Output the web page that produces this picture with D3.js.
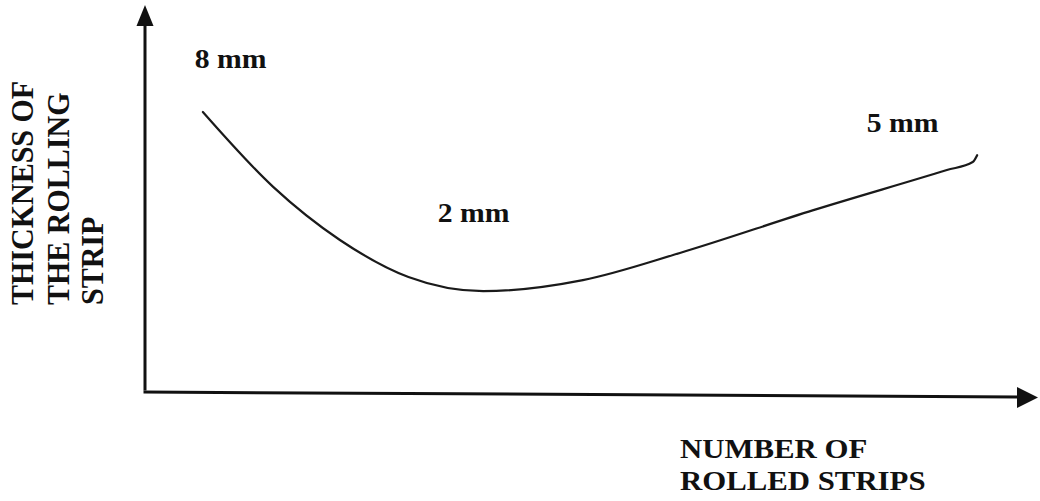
<!DOCTYPE html>
<html><head><meta charset="utf-8">
<script src="https://cdn.jsdelivr.net/npm/d3@7/dist/d3.min.js"></script>
<style>html,body{margin:0;padding:0;background:#fff;}svg{display:block;}</style>
</head><body><svg id="c" width="1040" height="501"></svg>
<script>
// Curve data (abstract units: x = number of rolled strips, y = thickness)
const stripsX = [6.5, 14.4, 21.9, 29.6, 38.0, 49.2, 60.1, 75.1, 90.1, 93.0, 93.5];
const thicknessY = [7.33, 5.37, 3.98, 3.01, 2.64, 2.93, 3.64, 4.76, 5.81, 6.02, 6.20];
// Annotation labels
const noteText = ["8 mm", "2 mm", "5 mm"];
const noteX = [5.6, 32.9, 81.1];
const noteY = [8.48, 4.45, 6.81];
const xTitle = ["NUMBER OF", "ROLLED STRIPS"];
const yTitle = ["THICKNESS OF", "THE ROLLING", "STRIP"];

const svg = d3.select("#c");
const x = d3.scaleLinear().domain([0, 100]).range([145, 1035]);
const y = d3.scaleLinear().domain([0, 10]).range([392, 10]);
const ink = "#111";
const font = "'Liberation Serif','Times New Roman',serif";

// axes
svg.append("line").attr("x1", x(0)).attr("y1", y(0) - 1.5).attr("x2", x(0)).attr("y2", 20)
  .attr("stroke", ink).attr("stroke-width", 3);
svg.append("path").attr("d", "M145,5 L153.5,26 L136.5,26 Z").attr("fill", ink);
svg.append("line").attr("x1", x(0) - 1.5).attr("y1", 392).attr("x2", 1022).attr("y2", 397)
  .attr("stroke", ink).attr("stroke-width", 3);
svg.append("path").attr("d", "M1038,397.5 L1017,387 L1017,408 Z").attr("fill", ink);

// curve
const pts = stripsX.map((v, i) => [v, thicknessY[i]]);
const line = d3.line().x(d => x(d[0])).y(d => y(d[1])).curve(d3.curveMonotoneX);
svg.append("path").datum(pts).attr("d", line).attr("fill", "none")
  .attr("stroke", "#1a1a1a").attr("stroke-width", 2.2).attr("stroke-linecap", "round");

// annotations
noteText.forEach((t, i) => {
  svg.append("text").attr("transform", `translate(${x(noteX[i])},${y(noteY[i])}) scale(1.1,1)`)
    .attr("font-family", font).attr("font-weight", "bold").attr("font-size", 27)
    .attr("fill", ink).text(t);
});

// x title
xTitle.forEach((t, i) => {
  svg.append("text").attr("transform", `translate(680,${458 + i * 32}) scale(1.1,1)`)
    .attr("font-family", font).attr("font-weight", "bold").attr("font-size", 28)
    .attr("fill", ink).text(t);
});

// y title
const yBase = [33, 69, 103];
yTitle.forEach((t, i) => {
  svg.append("text").attr("transform", `translate(${yBase[i]},305) rotate(-90) scale(1,1.08)`)
    .attr("font-family", font).attr("font-weight", "bold").attr("font-size", 30)
    .attr("fill", ink).text(t);
});
</script></body></html>
